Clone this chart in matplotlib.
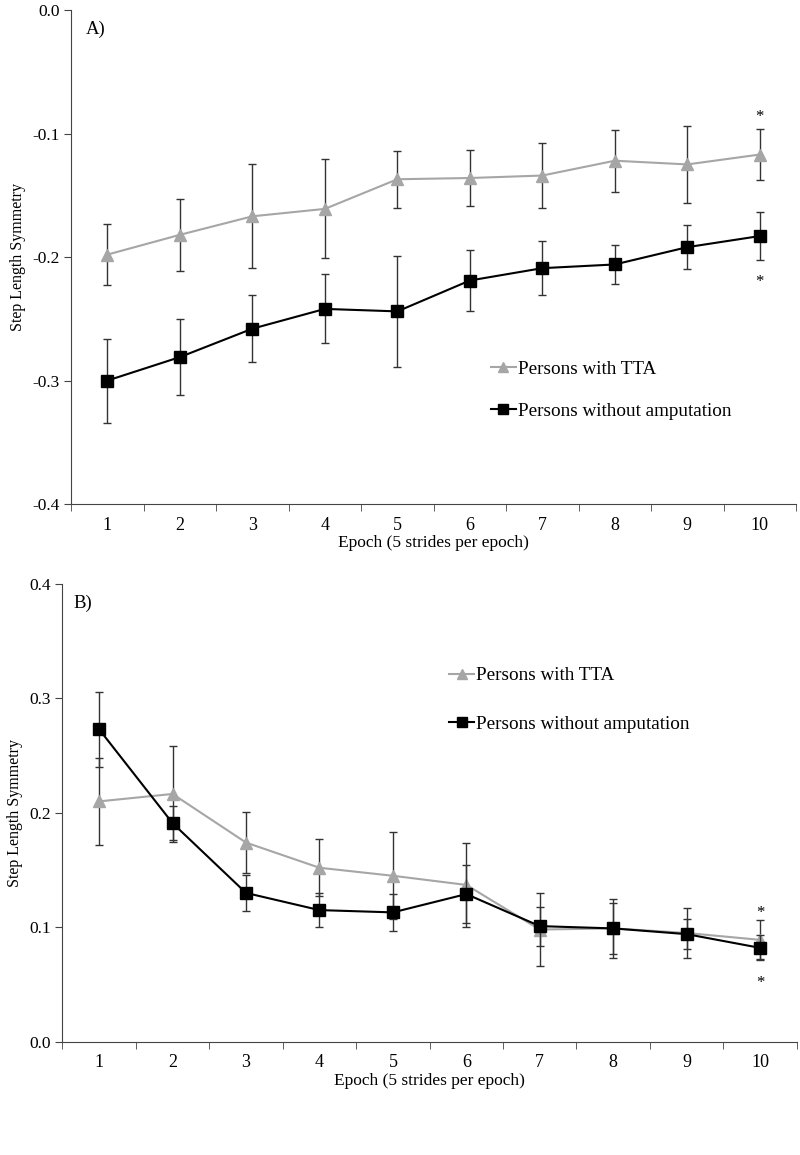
import numpy as np
import matplotlib.pyplot as plt

plt.rcParams['font.family'] = ['Liberation Serif', 'DejaVu Serif']

epoch = np.arange(1, 11)

# panel A
a_tta = [-0.198, -0.182, -0.167, -0.161, -0.137, -0.136, -0.134, -0.122, -0.125, -0.117]
a_tta_err = [0.025, 0.029, 0.042, 0.040, 0.023, 0.023, 0.026, 0.025, 0.031, 0.021]
a_ctrl = [-0.300, -0.281, -0.258, -0.242, -0.244, -0.219, -0.209, -0.206, -0.192, -0.183]
a_ctrl_err = [0.034, 0.031, 0.027, 0.028, 0.045, 0.025, 0.022, 0.0155, 0.018, 0.0195]

# panel B
b_tta = [0.210, 0.2165, 0.174, 0.152, 0.145, 0.137, 0.098, 0.099, 0.095, 0.089]
b_tta_err = [0.038, 0.042, 0.027, 0.025, 0.038, 0.037, 0.032, 0.026, 0.022, 0.017]
b_ctrl = [0.273, 0.191, 0.130, 0.115, 0.113, 0.129, 0.101, 0.099, 0.094, 0.082]
b_ctrl_err = [0.033, 0.015, 0.016, 0.015, 0.016, 0.025, 0.017, 0.022, 0.013, 0.011]

lab_tta = 'Persons with TTA'
lab_ctrl = 'Persons without amputation'

fig = plt.figure(figsize=(8, 11.55), dpi=100)
ax1 = fig.add_axes([0.089, 0.5636, 0.906, 0.4277])
ax2 = fig.add_axes([0.078, 0.0981, 0.918, 0.3963])


def draw(ax, tta, tta_err, ctrl, ctrl_err, ylim, yticks, ylabels):
    ax.errorbar(epoch, tta, yerr=tta_err, color='#a6a6a6', marker='^', ms=9,
                lw=1.5, ecolor='#333333', elinewidth=1, capsize=3, capthick=1,
                label=lab_tta, zorder=3)
    ax.errorbar(epoch, ctrl, yerr=ctrl_err, color='black', marker='s', ms=9,
                lw=1.5, ecolor='#333333', elinewidth=1, capsize=3, capthick=1,
                label=lab_ctrl, zorder=4)
    ax.set_xlim(0.5, 10.5)
    ax.set_ylim(*ylim)
    ax.set_yticks(yticks)
    ax.set_yticklabels(ylabels)
    ax.set_xticks(epoch)
    ax.set_xticks(np.arange(0.5, 11, 1), minor=True)
    ax.tick_params(axis='x', which='major', length=0, pad=9, labelsize=13)
    ax.tick_params(axis='x', which='minor', length=5, direction='out', color='#444444')
    ax.tick_params(axis='y', length=5, direction='out', labelsize=12.5, color='#444444')
    for s in ['top', 'right']:
        ax.spines[s].set_visible(False)
    for s in ['left', 'bottom']:
        ax.spines[s].set_color('#444444')
    ax.set_ylabel('Step Length Symmetry', fontsize=11.5)
    ax.set_xlabel('Epoch (5 strides per epoch)', fontsize=12.5, labelpad=1)


draw(ax1, a_tta, a_tta_err, a_ctrl, a_ctrl_err, (-0.4, 0.0),
     [-0.4, -0.3, -0.2, -0.1, 0.0], ['-0.4', '-0.3', '-0.2', '-0.1', '0.0'])
draw(ax2, b_tta, b_tta_err, b_ctrl, b_ctrl_err, (0.0, 0.4),
     [0.0, 0.1, 0.2, 0.3, 0.4], ['0.0', '0.1', '0.2', '0.3', '0.4'])

ax1.text(10, -0.087, '*', ha='center', va='center', fontsize=12)
ax1.text(10, -0.22, '*', ha='center', va='center', fontsize=12)
ax2.text(10, 0.1125, '*', ha='center', va='center', fontsize=12)
ax2.text(10, 0.051, '*', ha='center', va='center', fontsize=12)

ax1.text(0.02, 0.96, 'A)', transform=ax1.transAxes, fontsize=13.5, va='center')
ax2.text(0.015, 0.958, 'B)', transform=ax2.transAxes, fontsize=13.5, va='center')

for ax, anchor, sp in [(ax1, (0.558, 0.322), 1.3), (ax2, (0.506, 0.852), 1.6)]:
    h, l = ax.get_legend_handles_labels()
    h = [x[0] for x in h]
    ax.legend(h, l, loc='upper left', bbox_to_anchor=anchor, frameon=False,
              fontsize=13.8, handlelength=1.3, handletextpad=0.1,
              labelspacing=sp, markerscale=0.8, borderpad=0.3)

fig.savefig('out.png', dpi=100)
